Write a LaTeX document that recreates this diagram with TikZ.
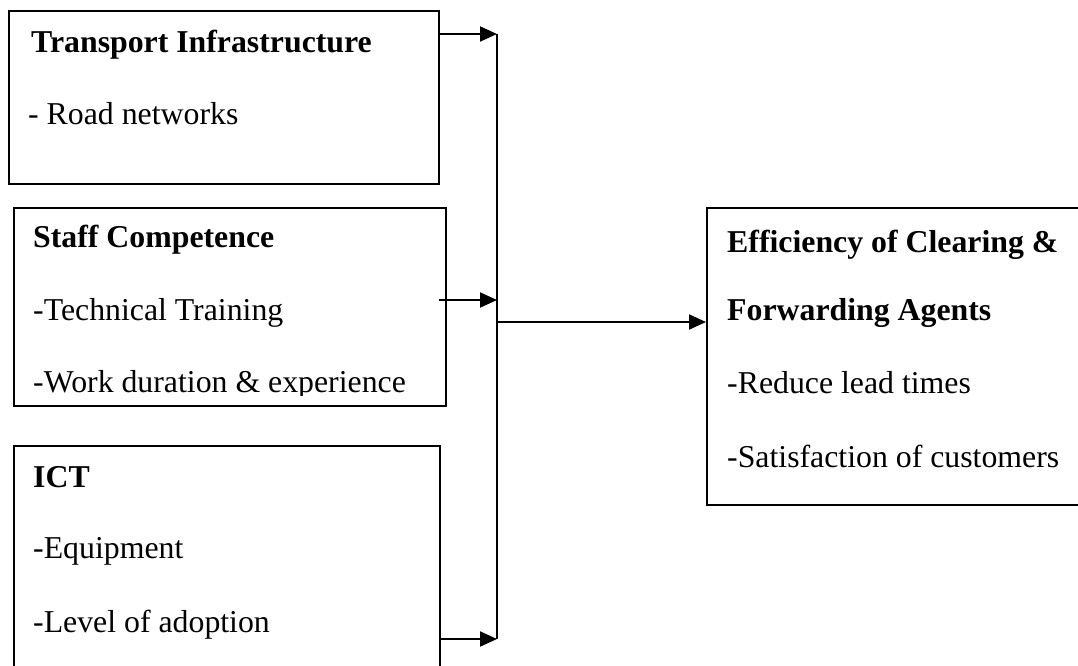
\documentclass[tikz,border=0pt]{standalone}
\usepackage{fontspec}
\setmainfont{Liberation Serif}
\usetikzlibrary{arrows.meta}
\begin{document}
\begin{tikzpicture}[x=1pt,y=-1pt,
  boxline/.style={draw=black,line width=2pt},
  txt/.style={anchor=base west,inner sep=0pt,font=\fontsize{31.8}{36}\selectfont},
  btxt/.style={txt,font=\fontsize{31.8}{36}\selectfont\bfseries},
  conn/.style={line width=2pt},
  arr/.style={conn,-{Triangle[length=17pt,width=15pt]}}]
\useasboundingbox (0,0) rectangle (1078,665);
\clip (0,0) rectangle (1078,665);
\fill[white] (0,0) rectangle (1078,665);
% boxes
\node[boxline,anchor=north west,minimum width=430pt,minimum height=173pt,inner sep=0pt] (b1) at (8,10) {};
\node[boxline,anchor=north west,minimum width=432pt,minimum height=198pt,inner sep=0pt] (b2) at (13,207) {};
\node[boxline,anchor=north west,minimum width=426pt,minimum height=260pt,inner sep=0pt] (b3) at (13,445) {};
\node[boxline,anchor=north west,minimum width=400pt,minimum height=297pt,inner sep=0pt] (b4) at (706,207) {};
% texts
\node[btxt] (t1) at (31,52) {Transport Infrastructure};
\node[txt] (t1a) at (28,124) {- Road networks};
\node[btxt] (t2) at (33,247) {Staff Competence};
\node[txt] (t2a) at (33,320) {-Technical Training};
\begin{scope}
\clip (14,350) rectangle (444,395);
\node[txt] (t2b) at (33,392) {-Work duration \& experience};
\end{scope}
\node[btxt] (t3) at (33,487) {ICT};
\node[txt] (t3a) at (33,558) {-Equipment};
\node[txt] (t3b) at (33,632) {-Level of adoption};
\node[btxt] (t4) at (727,252) {Efficiency of Clearing \&};
\node[btxt] (t4a) at (727,320) {Forwarding Agents};
\node[txt] (t4b) at (727,393) {-Reduce lead times};
\node[txt] (t4c) at (727,467) {-Satisfaction of customers};
% connectors
\coordinate (j1) at (497,34);
\coordinate (j2) at (497,300);
\coordinate (j3) at (497,639);
\coordinate (jm) at (497,322);
\coordinate (s2) at (439,300);
\coordinate (s3) at (439,639);
\draw[arr] (b1.east |- j1) -- (j1);
\draw[arr] (s2) -- (j2);
\draw[arr] (s3) -- (j3);
\draw[conn] (j1) -- (j3);
\draw[arr] (jm) -- (b4.west |- jm);
\end{tikzpicture}
\end{document}
